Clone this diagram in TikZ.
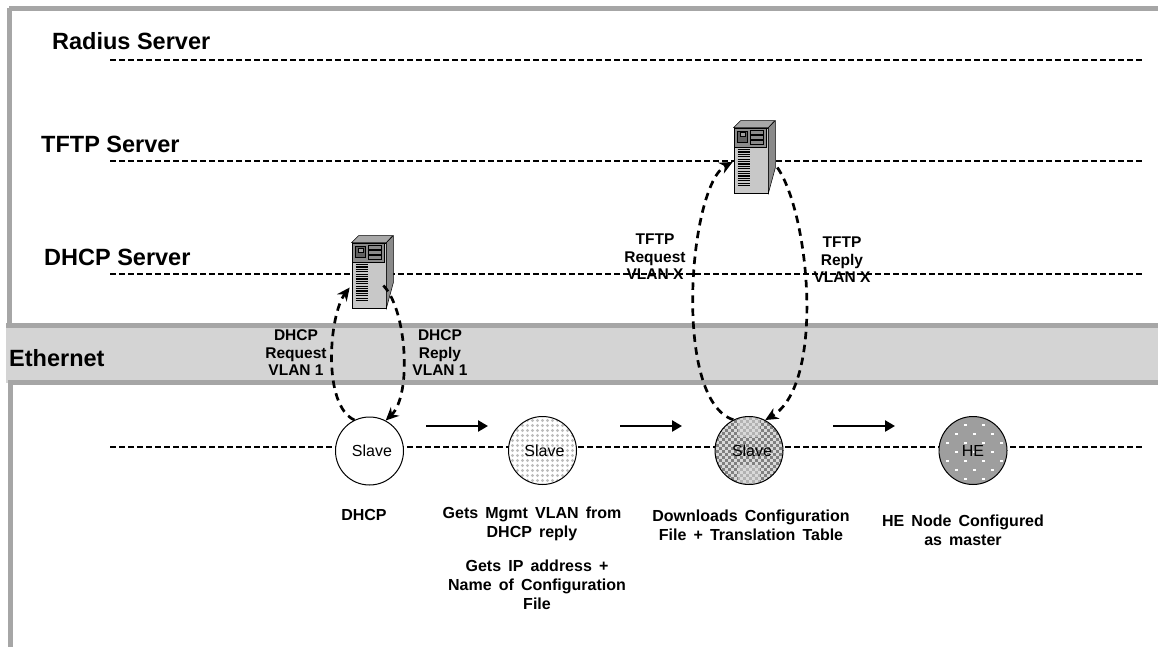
\documentclass[tikz,border=0pt]{standalone}
\usepackage{fontspec}
\setmainfont{Liberation Sans}
\newfontfamily\notefont[WordSpace=1.6]{Liberation Sans}
\usetikzlibrary{arrows.meta}
\definecolor{frame}{HTML}{A6A6A6}
\definecolor{band}{HTML}{D4D4D4}
\definecolor{srvfront}{HTML}{C8C8C8}
\definecolor{srvside}{HTML}{8A8A8A}
\definecolor{srvtop}{HTML}{A8A8A8}
\definecolor{srvpanel}{HTML}{8C8C8C}
\tikzset{
  lifeline/.style={line width=2pt, dash pattern=on 6pt off 3pt, black},
  framebar/.style={frame, line width=5pt},
  title/.style={font=\fontsize{23.5}{26}\selectfont\bfseries, inner sep=0pt},
  msg/.style={font=\fontsize{15.5}{17.5}\selectfont\bfseries, align=center, inner sep=0pt},
  note/.style={font=\notefont\fontsize{16}{19}\selectfont\bfseries, align=center, inner sep=0pt},
  station/.style={circle, draw=black, line width=1pt, minimum size=68pt, inner sep=0pt, font=\fontsize{16}{18}\selectfont},
  flow/.style={line width=2.7pt, dash pattern=on 7.5pt off 5.5pt, -{Stealth[length=13pt,width=12pt]}},
  advance/.style={line width=2.6pt, -{Triangle[length=10pt,width=11pt]}},
  serverbox/.style={draw=black, line width=0.7pt, fill=srvfront, minimum width=34pt, minimum height=65pt, inner sep=0pt},
}
\newcommand{\serverparts}[1]{%
  \fill[srvtop,draw=black,line width=.5pt] (#1.north west) -- ++(7,-7) -- ++(34,0) -- (#1.north east) -- cycle;
  \fill[srvside,draw=black,line width=.5pt] (#1.north east) -- ++(7,-7) -- ++(0,47) -- (#1.south east) -- cycle;
  \begin{scope}[shift={(#1.north west)}]
    \fill[srvpanel,draw=black,line width=.5pt] (1,1) rectangle (33,20);
    \fill[srvside!70!black,draw=black,line width=.4pt] (4,4) rectangle (14,15);
    \fill[srvfront!80!black,draw=black,line width=.3pt] (6,5) rectangle (11,9);
    \foreach \r in {3,8,13}{\fill[srvside,draw=black,line width=.4pt] (17,\r) rectangle (30,\r+4);}
    \foreach \r in {22,24.4,...,60}{\draw[black,line width=1.2pt] (4,\r) -- (16,\r);}
  \end{scope}
}
\newcommand{\stationtext}[2]{\raisebox{-1.5pt}{\hspace*{#1}#2}}
\begin{document}
\begin{tikzpicture}[x=1pt,y=-1pt]
\useasboundingbox (0,0) rectangle (1158,647);
\fill[white] (0,0) rectangle (1158,647);
% frame and band
\coordinate (tl) at (9,8); \coordinate (tr) at (1158,8.5);
\coordinate (lm) at (9,326); \coordinate (lb) at (10.5,385); \coordinate (lbb) at (10.5,647);
\draw[framebar] (9,8.5) -- (tr);
\draw[framebar] (tl) -- (lm);
\draw[framebar] (lb) -- (lbb);
\fill[band] (6,325) rectangle (1158,383);
\draw[framebar] (6,325.5) -- (1158,325.5);
\draw[framebar] (8,382.5) -- (1158,382.5);
% lifelines
\coordinate (r0) at (110,60);  \coordinate (r1) at (1142,60);
\coordinate (t0) at (110,161); \coordinate (t1) at (1142,161);
\coordinate (d0) at (110,274); \coordinate (d1) at (1142,274);
\coordinate (n0) at (110,447); \coordinate (n1) at (1142,447);
\draw[lifeline] (r0) -- (r1);
\draw[lifeline] (t0) -- (t1);
\draw[lifeline] (d0) -- (d1);
\draw[lifeline] (n0) -- (n1);
% titles
\node[title,anchor=west] (tRadius) at (52,41) {Radius Server};
\node[title,anchor=west] (tTftp) at (41,144) {TFTP Server};
\node[title,anchor=west] (tDhcp) at (44,257) {DHCP Server};
\node[title,anchor=west] (tEth) at (9,358) {Ethernet};
% servers
\node[serverbox] (srvA) at (369,275.5) {};
\serverparts{srvA}
\node[serverbox] (srvB) at (751,160.5) {};
\serverparts{srvB}
% station fill patterns
\begin{scope}[shift={(542.5,450.5)}]
  \clip (0,0) circle (34);
  \fill[white] (-40,-40) rectangle (40,40);
  \foreach \i in {-8,...,8}{\foreach \j in {-8,...,8}{
    \fill[black!26] (\i*5,\j*5) circle (1.7);}}
\end{scope}
\begin{scope}[shift={(749,450.5)}]
  \clip (0,0) circle (34);
  \fill[black!50] (-40,-40) rectangle (40,40);
  \fill[black!30] (-11,-40) rectangle (11,-14);
  \fill[black!30] (-11,14) rectangle (11,40);
  \foreach \i in {-13,...,13}{\foreach \j in {-13,...,13}{
    \pgfmathparse{int(mod(\i+\j+40,2))}
    \ifnum\pgfmathresult=0 \fill[white!85!black] (\i*3,\j*3-0.5) rectangle ++(3,3);\fi}}
\end{scope}
\begin{scope}[shift={(973,450.5)}]
  \clip (0,0) circle (34);
  \fill[black!38] (-40,-40) rectangle (40,40);
  \foreach \i in {-4,...,4}{\foreach \j in {-4,...,4}{
    \pgfmathparse{int(mod(\i+\j+40,2))}
    \ifnum\pgfmathresult=0 \fill[white] (\i*9,\j*9) rectangle ++(2.6,2.6);\fi}}
\end{scope}
% stations
\node[station,fill=white] (slaveA) at (369.5,451) {\stationtext{5pt}{Slave}};
\node[station] (slaveB) at (542.5,450.5) {\stationtext{4pt}{Slave}};
\node[station] (slaveC) at (749,450.5) {\stationtext{6pt}{Slave}};
\node[station] (he) at (973,450.5) {\stationtext{0pt}{HE}};
% advance arrows
\coordinate (a0) at (426,426); \coordinate (a1) at (488,426);
\coordinate (b0) at (620,426); \coordinate (b1) at (682,426);
\coordinate (c0) at (833,426); \coordinate (c1) at (895,426);
\draw[advance] (a0) -- (a1);
\draw[advance] (b0) -- (b1);
\draw[advance] (c0) -- (c1);
% flows
\draw[flow] (slaveA.116) .. controls (322,405) and (329,315) .. ([xshift=-2pt,yshift=-12pt]srvA.west);
\draw[flow] ([xshift=-3pt,yshift=-10pt]srvA.east) .. controls (407,310) and (412,395) .. (slaveA.62);
\draw[flow] (slaveC.117) .. controls (672,400) and (689,185) .. ([xshift=-1pt,yshift=-1.5pt]srvB.west);
\draw[flow] ([xshift=9pt,yshift=-7pt]srvB.east) .. controls (810,215) and (825,385) .. (slaveC.62);
% labels
\node[msg] (lDreq) at (296,353) {DHCP\\Request\\VLAN 1};
\node[msg] (lDrep) at (440,353) {DHCP\\Reply\\VLAN 1};
\node[msg] (lTreq) at (655,257) {TFTP\\Request\\VLAN X};
\node[msg] (lTrep) at (842,260) {TFTP\\Reply\\VLAN X};
\node[note] (nA) at (364,515) {DHCP};
\node[note] (nB) at (532,524) {Gets Mgmt VLAN from\\DHCP reply};
\node[note] (nC) at (537,585) {Gets IP address~+\\Name of Configuration\\File};
\node[note] (nD) at (751,525) {Downloads Configuration\\File + Translation Table};
\node[note] (nE) at (963,530.5) {HE Node Configured\\as master};
\end{tikzpicture}
\end{document}
